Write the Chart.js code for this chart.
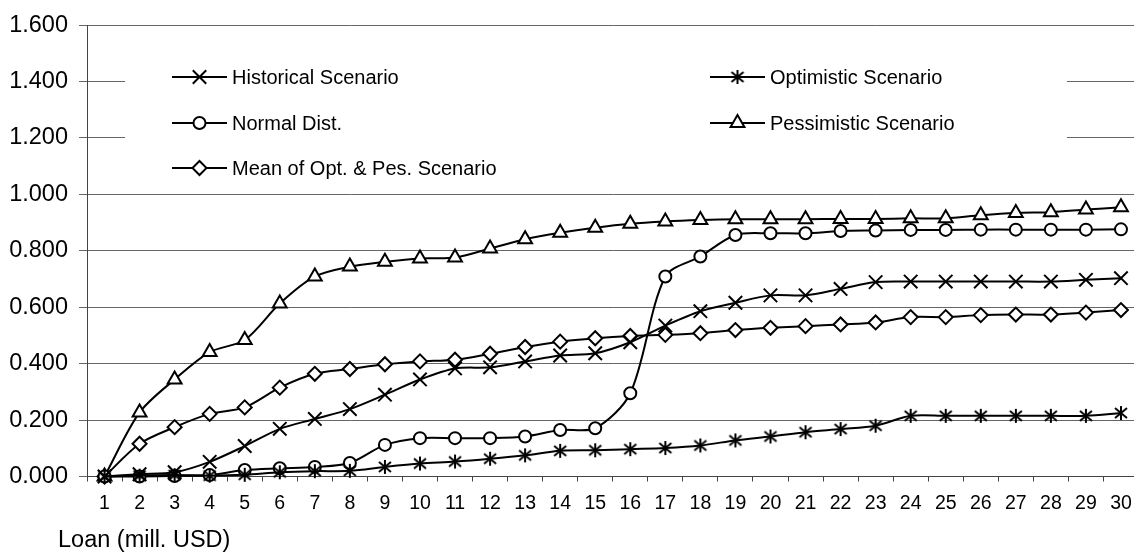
<!DOCTYPE html>
<html>
<head>
<meta charset="utf-8">
<title>Loan distribution</title>
<script src="https://cdn.jsdelivr.net/npm/chart.js@4/dist/chart.umd.min.js"></script>
<style>
  html, body { margin: 0; padding: 0; background: #fff; overflow: hidden; }
  #wrap { position: absolute; left: 0; top: 0; width: 1150px; height: 560px; }
</style>
</head>
<body>
<div id="wrap"><canvas id="chart"></canvas></div>
<script>
// categories (loan, mill. USD)
const categories = ['1', '2', '3', '4', '5', '6', '7', '8', '9', '10',
    '11', '12', '13', '14', '15', '16', '17', '18', '19', '20',
    '21', '22', '23', '24', '25', '26', '27', '28', '29', '30'];

const historical = [0, 0.008, 0.015, 0.052, 0.108, 0.169, 0.204, 0.239, 0.290, 0.344,
    0.383, 0.387, 0.408, 0.429, 0.437, 0.476, 0.535, 0.586, 0.616, 0.642,
    0.642, 0.665, 0.689, 0.691, 0.691, 0.691, 0.691, 0.691, 0.697, 0.703];

const optimistic = [0, 0.003, 0.005, 0.003, 0.006, 0.015, 0.019, 0.020, 0.034, 0.046,
    0.053, 0.063, 0.075, 0.091, 0.093, 0.097, 0.101, 0.110, 0.128, 0.142,
    0.157, 0.168, 0.180, 0.215, 0.215, 0.215, 0.215, 0.215, 0.215, 0.225];

const normalDist = [0, 0, 0.002, 0.005, 0.023, 0.029, 0.034, 0.048, 0.112, 0.136,
    0.136, 0.136, 0.142, 0.165, 0.171, 0.295, 0.709, 0.780, 0.856, 0.862,
    0.862, 0.870, 0.872, 0.874, 0.874, 0.875, 0.875, 0.875, 0.875, 0.876];

const pessimistic = [0, 0.227, 0.344, 0.441, 0.484, 0.613, 0.709, 0.744, 0.761, 0.773,
    0.776, 0.808, 0.841, 0.864, 0.882, 0.896, 0.904, 0.909, 0.912, 0.912,
    0.912, 0.913, 0.913, 0.915, 0.915, 0.926, 0.934, 0.937, 0.946, 0.954];

const meanOptPes = [0, 0.116, 0.175, 0.222, 0.245, 0.315, 0.364, 0.381, 0.398, 0.408,
    0.414, 0.435, 0.459, 0.478, 0.490, 0.498, 0.502, 0.508, 0.519, 0.527,
    0.533, 0.539, 0.546, 0.565, 0.565, 0.572, 0.574, 0.574, 0.581, 0.590];

const yTicks = [0, 0.2, 0.4, 0.6, 0.8, 1.0, 1.2, 1.4, 1.6];
const xTitle = 'Loan (mill. USD)';

const FONT = "'Liberation Sans', Arial, sans-serif";

// Excel style asterisk marker (vertical bar + X)
function makeAsterisk() {
    const c = document.createElement('canvas');
    c.width = 16;
    c.height = 16;
    const g = c.getContext('2d');
    g.strokeStyle = '#000';
    g.lineWidth = 2;
    g.beginPath();
    g.moveTo(8, 1); g.lineTo(8, 15);
    g.moveTo(2, 3); g.lineTo(14, 13);
    g.moveTo(2, 13); g.lineTo(14, 3);
    g.stroke();
    return c;
}
const asterisk = makeAsterisk();

function series(label, data, pointStyle, radius) {
    return {
        label: label,
        data: data,
        borderColor: '#000',
        borderWidth: 2,
        backgroundColor: '#fff',
        pointStyle: pointStyle,
        pointRadius: radius,
        pointBorderWidth: 2,
        pointBorderColor: '#000',
        pointBackgroundColor: '#fff',
        tension: 0.3,
        fill: false,
        clip: false
    };
}

const datasets = [
    series('Historical Scenario', historical, 'crossRot', 9.5),
    series('Optimistic Scenario', optimistic, asterisk, 7),
    series('Normal Dist.', normalDist, 'circle', 6),
    series('Pessimistic Scenario', pessimistic, 'triangle', 8),
    series('Mean of Opt. & Pes. Scenario', meanOptPes, 'rectRot', 7)
];

// legend laid out in two columns inside the plot, like the original
const legendBox = { left: 125, top: 36, right: 1067, bottom: 186 };
const legendCols = [172, 710];
const legendRows = [77, 123, 168];

const boxLegend = {
    id: 'boxLegend',
    afterDraw(chart) {
        const ctx = chart.ctx;
        ctx.save();
        ctx.fillStyle = '#fff';
        ctx.fillRect(legendBox.left, legendBox.top,
            legendBox.right - legendBox.left, legendBox.bottom - legendBox.top);
        chart.data.datasets.forEach((ds, i) => {
            const x = legendCols[i % 2];
            const y = legendRows[Math.floor(i / 2)];
            ctx.strokeStyle = '#000';
            ctx.lineWidth = 2;
            ctx.beginPath();
            ctx.moveTo(x, y);
            ctx.lineTo(x + 55, y);
            ctx.stroke();
            ctx.fillStyle = '#fff';
            Chart.helpers.drawPoint(ctx, {
                pointStyle: ds.pointStyle,
                radius: ds.pointRadius,
                rotation: 0,
                borderWidth: 2
            }, x + 27.5, y);
            ctx.fillStyle = '#000';
            ctx.font = '20px ' + FONT;
            ctx.textAlign = 'left';
            ctx.textBaseline = 'middle';
            ctx.fillText(ds.label, x + 60, y + 1);
        });
        // axis title, left aligned under the axis labels
        ctx.font = '23.5px ' + FONT;
        ctx.textBaseline = 'middle';
        ctx.fillText(xTitle, 58, 541);
        ctx.restore();
    }
};

new Chart(document.getElementById('chart'), {
    type: 'line',
    data: { labels: categories, datasets: datasets },
    options: {
        responsive: true,
        maintainAspectRatio: false,
        animation: false,
        events: [],
        layout: { padding: { left: 0, top: 20, right: 10, bottom: 0 } },
        plugins: {
            legend: { display: false },
            tooltip: { enabled: false }
        },
        scales: {
            x: {
                offset: true,
                grid: {
                    display: true,
                    drawOnChartArea: false,
                    drawTicks: true,
                    tickLength: 5,
                    offset: true,
                    color: '#444'
                },
                border: { color: '#444', width: 1 },
                ticks: {
                    color: '#000',
                    font: { family: FONT, size: 19.5 },
                    padding: 10,
                    maxRotation: 0,
                    autoSkip: false
                },
                afterFit: (scale) => { scale.height = 83.5; }
            },
            y: {
                min: 0,
                max: 1.6,
                grid: {
                    color: '#666',
                    tickLength: 8,
                    drawTicks: true
                },
                border: { color: '#444', width: 1 },
                ticks: {
                    stepSize: 0.2,
                    color: '#000',
                    font: { family: FONT, size: 23.5 },
                    padding: 11,
                    callback: (v) => Number(v).toFixed(3)
                },
                afterBuildTicks: (scale) => {
                    scale.ticks = yTicks.map(v => ({ value: v }));
                },
                afterFit: (scale) => { scale.width = 87; }
            }
        }
    },
    plugins: [boxLegend]
});
</script>
</body>
</html>
